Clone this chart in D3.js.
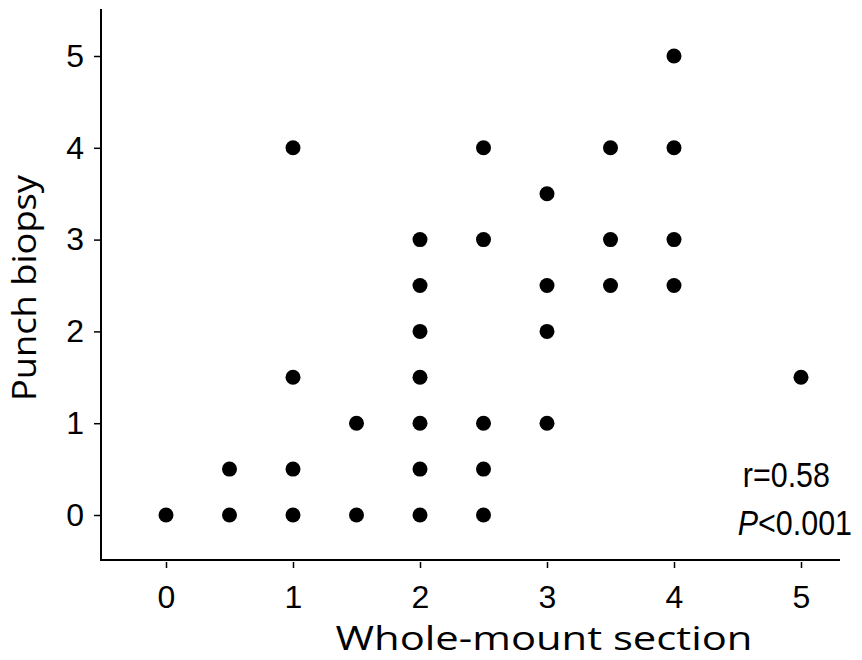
<!DOCTYPE html>
<html>
<head>
<meta charset="utf-8">
<script src="https://cdn.jsdelivr.net/npm/d3@7"></script>
<style>
  body { margin: 0; background: #fff; }
  svg { display: block; }
</style>
</head>
<body>
<div id="chart"></div>
<script>
// Whole-mount section score vs punch biopsy score
const wholeMount = [0, 0.5, 0.5, 1, 1, 1, 1, 1.5, 1.5, 2, 2, 2, 2, 2, 2, 2,
  2.5, 2.5, 2.5, 2.5, 2.5, 3, 3, 3, 3, 3.5, 3.5, 3.5, 4, 4, 4, 4, 5];
const punchBiopsy = [0, 0, 0.5, 0, 0.5, 1.5, 4, 0, 1, 0, 0.5, 1, 1.5, 2, 2.5, 3,
  0, 0.5, 1, 3, 4, 1, 2, 2.5, 3.5, 2.5, 3, 4, 2.5, 3, 4, 5, 1.5];
const xTicks = [0, 1, 2, 3, 4, 5];
const yTicks = [0, 1, 2, 3, 4, 5];

const width = 862, height = 660;
const svg = d3.select("#chart").append("svg")
  .attr("width", width).attr("height", height);

// 0 -> 166, 5 -> 801 ; 0 -> 515, 5 -> 56
const x = d3.scaleLinear().domain([0, 5]).range([166, 801]);
const y = d3.scaleLinear().domain([0, 5]).range([515, 56]);

const axisLeft = 101, axisBottom = 560;
const tickFont = "'Liberation Sans', Arial, sans-serif";
const titleFont = "'Open Sans', 'Noto Sans', sans-serif";

// axis lines
svg.append("line")
  .attr("x1", axisLeft).attr("x2", axisLeft)
  .attr("y1", 9).attr("y2", axisBottom + 1)
  .attr("stroke", "#000").attr("stroke-width", 2);
svg.append("line")
  .attr("x1", axisLeft).attr("x2", 840)
  .attr("y1", axisBottom).attr("y2", axisBottom)
  .attr("stroke", "#000").attr("stroke-width", 2);

// y axis ticks
const yAxis = d3.axisLeft(y).tickValues(yTicks).tickSize(6).tickPadding(10)
  .tickFormat(d3.format("d"));
const gy = svg.append("g").attr("transform", `translate(${axisLeft - 1},0)`).call(yAxis);
gy.select(".domain").remove();
gy.selectAll("line").attr("stroke", "#000").attr("stroke-width", 1.5);
gy.selectAll("text")
  .attr("font-family", tickFont)
  .attr("font-size", 32).attr("fill", "#000");

// x axis ticks
const xAxis = d3.axisBottom(x).tickValues(xTicks).tickSize(6)
  .tickFormat(d3.format("d"));
const gx = svg.append("g").attr("transform", `translate(0,${axisBottom + 2})`).call(xAxis);
gx.select(".domain").remove();
gx.selectAll("line").attr("stroke", "#000").attr("stroke-width", 1.5);
gx.selectAll("text")
  .attr("y", 46).attr("dy", null)
  .attr("font-family", tickFont)
  .attr("font-size", 32).attr("fill", "#000");

// axis titles
svg.append("text")
  .attr("x", 544).attr("y", 650)
  .attr("text-anchor", "middle")
  .attr("font-family", titleFont)
  .attr("font-size", 33)
  .attr("textLength", 417).attr("lengthAdjust", "spacingAndGlyphs")
  .text("Whole-mount section");

svg.append("text")
  .attr("transform", "translate(36,288) rotate(-90)")
  .attr("text-anchor", "middle")
  .attr("font-family", titleFont)
  .attr("font-size", 33)
  .attr("textLength", 226).attr("lengthAdjust", "spacingAndGlyphs")
  .text("Punch biopsy");

// points
svg.append("g").selectAll("circle")
  .data(wholeMount.map((v, i) => [v, punchBiopsy[i]]))
  .join("circle")
  .attr("cx", d => x(d[0]))
  .attr("cy", d => y(d[1]))
  .attr("r", 7.5)
  .attr("fill", "#000");

// correlation annotation (glyphs a bit narrow, as in the source)
const ann = svg.append("g")
  .attr("font-family", tickFont)
  .attr("font-size", 35).attr("fill", "#000");
ann.append("text")
  .attr("transform", "translate(830,487) scale(0.87,1)")
  .attr("text-anchor", "end").text("r=0.58");
const p = ann.append("text")
  .attr("transform", "translate(852,535) scale(0.87,1)")
  .attr("text-anchor", "end");
p.append("tspan").attr("font-style", "italic").text("P");
p.append("tspan").text("<0.001");
</script>
</body>
</html>
